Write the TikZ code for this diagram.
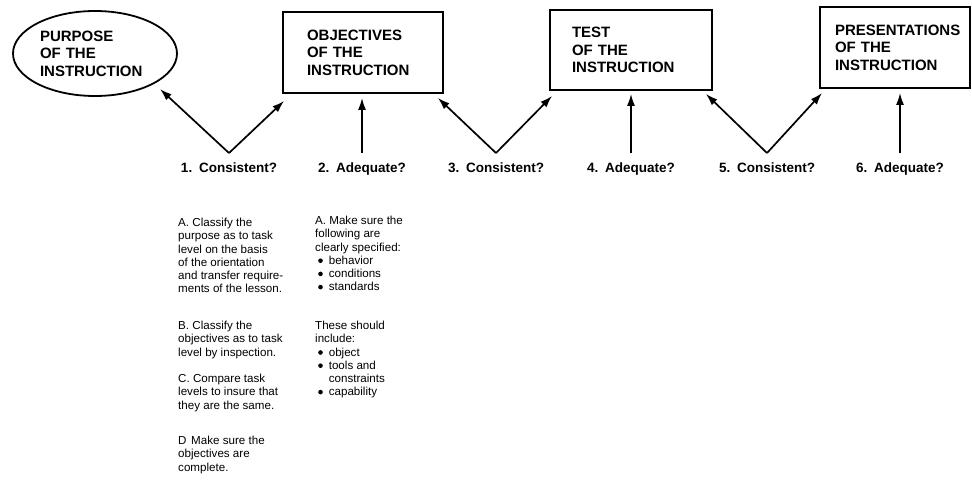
\documentclass[tikz,border=0pt]{standalone}
\usepackage{fontspec}
\setmainfont{Liberation Sans}
\usetikzlibrary{arrows.meta,calc,shapes.geometric}
\newcommand{\bul}{\hspace*{3pt}\tikz[baseline=0pt]\fill (2.3pt,3.5pt) circle (2.3pt);\hspace{6pt}}
\begin{document}
\begin{tikzpicture}[x=1pt,y=-1pt,
  hdr/.style={font=\fontsize{15}{17.5}\selectfont\bfseries, align=left},
  boxnode/.style={hdr, draw, line width=1.8pt, inner ysep=0pt, rectangle},
  ellnode/.style={hdr, draw, line width=1.8pt, ellipse, inner sep=0pt},
  lbl/.style={font=\fontsize{13.5}{16}\selectfont\bfseries, anchor=base, inner xsep=0pt, inner ysep=9pt},
  body/.style={font=\fontsize{11.6}{13.2}\selectfont, align=left, anchor=north west, inner sep=0pt},
  arr/.style={line width=1.7pt, -{Latex[length=12pt,width=8pt]}}
]
\useasboundingbox[fill=white] (0,0) rectangle (972,480);

% top row
\node[ellnode, minimum width=164pt, minimum height=85pt, text width=110pt] (ell) at (95,53.5) {PURPOSE\\OF THE\\INSTRUCTION};
\node[boxnode, minimum width=160pt, minimum height=81pt, text width=112pt, inner xsep=24pt] (obj) at (363,52.5) {OBJECTIVES\\OF THE\\INSTRUCTION};
\node[boxnode, minimum width=162pt, minimum height=80pt, text width=118pt, inner xsep=22pt] (test) at (631,50) {TEST\\OF THE\\INSTRUCTION};
\node[boxnode, minimum width=150pt, minimum height=81pt, text width=120pt, inner xsep=15pt] (pres) at (895,47.5) {PRESENTATIONS\\OF THE\\INSTRUCTION};

% labels
\node[lbl] (l1) at (229,172) {1.\hspace{0.5em}Consistent?};
\node[lbl] (l2) at (362,172) {2.\hspace{0.5em}Adequate?};
\node[lbl] (l3) at (496,172) {3.\hspace{0.5em}Consistent?};
\node[lbl] (l4) at (631,172) {4.\hspace{0.5em}Adequate?};
\node[lbl] (l5) at (767,172) {5.\hspace{0.5em}Consistent?};
\node[lbl] (l6) at (900,172) {6.\hspace{0.5em}Adequate?};

% arrows
\draw[arr] (l1.north) -- ($(ell.center)+(65,35.5)$);
\draw[arr] (l1.north) -- ($(obj.south west)+(2,7)$);
\draw[arr] (l2.north) -- ($(l2.north |- obj.south)+(0,4)$);
\draw[arr] (l3.north) -- ($(obj.south east)+(-6,4)$);
\draw[arr] (l3.north) -- ($(test.south west)+(3,5)$);
\draw[arr] (l4.north) -- ($(l4.north |- test.south)+(0,3)$);
\draw[arr] (l5.north) -- ($(test.south east)+(-7,3)$);
\draw[arr] (l5.north) -- ($(pres.south west)+(3,4)$);
\draw[arr] (l6.north) -- ($(l6.north |- pres.south)+(0,4)$);

% column 1
\node[body] (ta) at (178,218) {A. Classify the\\purpose as to task\\level on the basis\\of the orientation\\and transfer require-\\ments of the lesson.};
\node[body] (tb) at (178,321) {B. Classify the\\objectives as to task\\level by inspection.};
\node[body] (tc) at (178,374) {C. Compare task\\levels to insure that\\they are the same.};
\node[body] (td) at (178,436) {D\hspace{0.4em}Make sure the\\objectives are\\complete.};

% column 2
\node[body] (ua) at (315,216) {A. Make sure the\\following are\\clearly specified:\\\bul behavior\\\bul conditions\\\bul standards};
\node[body] (ub) at (315,321) {These should\\include:\\\bul object\\\bul tools and\\\hspace*{13.6pt}constraints\\\bul capability};
\end{tikzpicture}
\end{document}
